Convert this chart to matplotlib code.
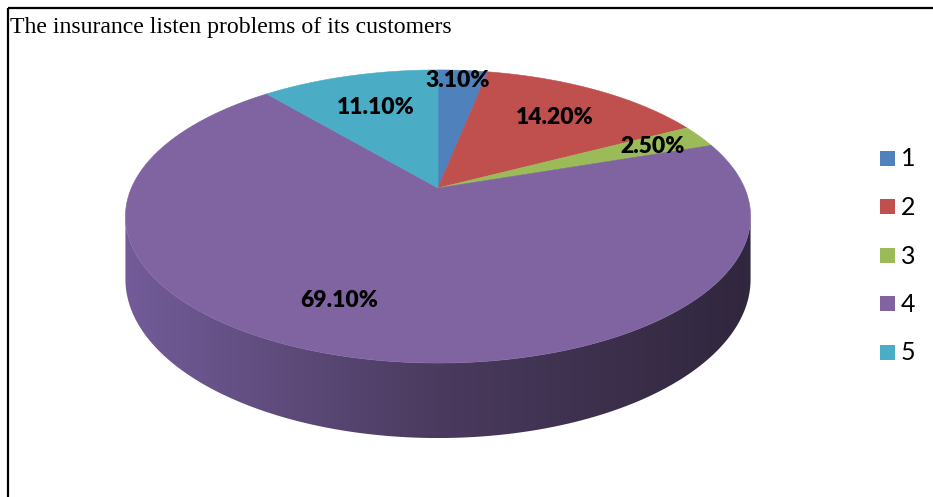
import matplotlib.pyplot as plt
import numpy as np
from matplotlib.patches import Polygon, Rectangle
from matplotlib.colors import LinearSegmentedColormap

title = 'The insurance listen problems of its customers'
labels = ['1', '2', '3', '4', '5']
shares = [3.1, 14.2, 2.5, 69.1, 11.1]
colors = ['#4F81BD', '#C0504D', '#9BBB59', '#8064A2', '#4BACC6']

# where each percentage sits along its slice bisector (fraction of radius)
label_r = [0.9, 0.69, 0.8, 0.72, 0.68]
label_dx = [-3, 3, 2, -30, 1]

# pixel geometry of the tilted disc (perspective)
cx, cy = 438, 188
A, B = 306.6, 141.0
k = 0.1945
H = 60.4


def proj(theta, r=1.0, h=0.0):
    X = r * np.sin(theta)
    Z = r * np.cos(theta)
    d = 1 + k * Z
    return cx + A * X / d, cy - B * Z / d + H * h / d


fig = plt.figure(figsize=(9.33, 4.97), dpi=100)
ax = fig.add_axes([0, 0, 1, 1])
ax.set_xlim(0, 933)
ax.set_ylim(497, 0)
ax.axis('off')

fracs = np.array(shares) / sum(shares)
edges = np.concatenate([[0], np.cumsum(fracs)]) * 2 * np.pi

# visible front wall runs between the two silhouette points
th_r = np.pi / 2 + np.arcsin(k)
th_l = 3 * np.pi / 2 - np.arcsin(k)

side_cmap = LinearSegmentedColormap.from_list(
    'side', [(0.45, 0.36, 0.60), (0.29, 0.23, 0.37), (0.19, 0.15, 0.24)])

for i in range(len(shares)):
    a0, a1 = max(edges[i], th_r), min(edges[i + 1], th_l)
    if a1 <= a0:
        continue
    t = np.linspace(a0, a1, 300)
    ut, vt = proj(t)
    ub, vb = proj(t[::-1], h=1)
    pts = np.column_stack([np.concatenate([ut, ub]), np.concatenate([vt, vb])])
    poly = Polygon(pts, closed=True, facecolor='none', edgecolor='none')
    ax.add_patch(poly)
    grad = np.linspace(0, 1, 256).reshape(1, -1)
    im = ax.imshow(grad, cmap=side_cmap, aspect='auto',
                   extent=(pts[:, 0].min(), pts[:, 0].max(), pts[:, 1].max(), pts[:, 1].min()),
                   zorder=1, interpolation='bilinear')
    im.set_clip_path(poly)

# top face of each slice
for i in range(len(shares)):
    t = np.linspace(edges[i], edges[i + 1], 300)
    u, v = proj(t)
    pts = np.column_stack([np.concatenate([[cx], u]), np.concatenate([[cy], v])])
    ax.add_patch(Polygon(pts, closed=True, facecolor=colors[i], edgecolor=colors[i],
                         lw=0.4, zorder=2))

# percentage labels
for i, s in enumerate(shares):
    mid = (edges[i] + edges[i + 1]) / 2
    u, v = proj(mid, r=label_r[i])
    ax.text(u + label_dx[i], v, f'{s:.2f}%', fontsize=16.5, fontweight='heavy',
            family='Lato', ha='center', va='center', zorder=3)

# legend
for i, lab in enumerate(labels):
    y = 158 + i * 48.5
    ax.add_patch(Rectangle((880, y - 7.5), 15, 15, facecolor=colors[i], edgecolor='none'))
    ax.text(901, y + 1, lab, fontsize=18, family='Lato', ha='left', va='center')

ax.text(10, 33, title, fontsize=17.1, family='Liberation Serif', ha='left', va='baseline')

# frame on the top and left
ax.plot([8, 933], [8, 8], color='black', lw=1.6, solid_capstyle='butt')
ax.plot([8, 8], [8, 497], color='black', lw=1.6, solid_capstyle='butt')

ax.set_xlim(0, 933)
ax.set_ylim(497, 0)
fig.savefig('out.png', dpi=100)
